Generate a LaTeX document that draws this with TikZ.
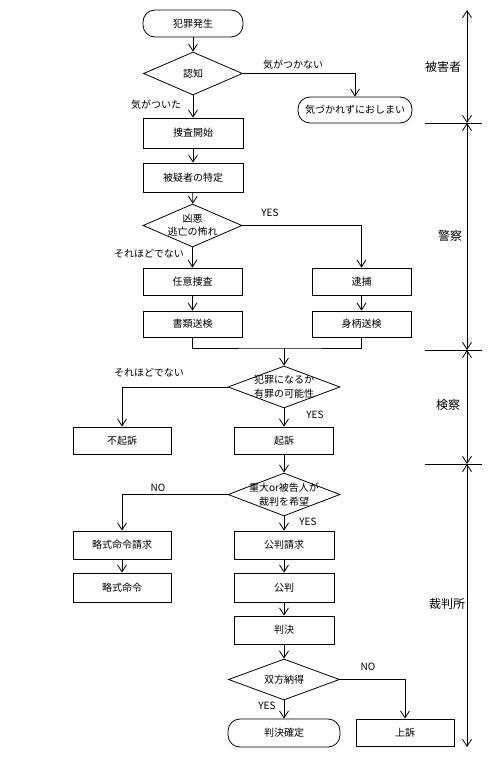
\documentclass[tikz,border=0pt]{standalone}
\usepackage{fontspec}
\setmainfont{Noto Sans CJK JP}
\usetikzlibrary{arrows.meta,shapes.geometric}
\begin{document}
\begin{tikzpicture}[x=1pt,y=-1pt,
  font=\fontsize{10}{13.5}\selectfont,
  line width=0.8pt,
  >={Straight Barb[length=7pt,width=9pt]},
  box/.style={draw,rectangle,minimum width=99pt,minimum height=28pt,inner sep=0pt},
  term/.style={draw,rectangle,rounded corners=12pt,minimum height=27pt,inner sep=0pt},
  dia/.style={draw,diamond,minimum width=#1,minimum height=43pt,inner sep=0pt},
  txt/.style={inner sep=0pt,align=center},
  lbl/.style={inner sep=0pt},
  side/.style={inner sep=0pt,font=\fontsize{12}{14}\selectfont},
  tick/.style={line width=0.8pt}]
\useasboundingbox[fill=white] (0,0) rectangle (492,757);

% terminals
\node[term,minimum width=100pt] (start) at (193,23.5) {犯罪発生};
\node[term,minimum width=114pt,minimum height=26pt] (oshimai) at (355,110) {気づかれずにおしまい};
\node[term,minimum width=112pt,minimum height=28pt] (kakutei) at (284,733) {判決確定};

% diamonds
\node[dia=99pt] (ninchi) at (193,73.5) {};
\node[txt] (ninchiT) at (ninchi) {認知};
\node[dia=99pt] (kyoaku) at (192.5,225.5) {};
\node[txt] (kyoakuT) at (kyoaku) {凶悪\\逃亡の怖れ};
\node[dia=112pt,minimum height=42pt] (hanzai) at (284,387) {};
\node[txt] (hanzaiT) at (hanzai) {犯罪になるか\\有罪の可能性};
\node[dia=112pt] (judai) at (284,494.5) {};
\node[txt] (judaiT) at (judai) {重大or被告人が\\裁判を希望};
\node[dia=111pt,minimum height=41pt] (soho) at (284,679.5) {};
\node[txt] (sohoT) at (soho) {双方納得};

% boxes
\node[box,minimum width=100pt,minimum height=30pt] (kaishi) at (193,133) {捜査開始};
\node[box,minimum width=100pt,minimum height=29pt] (tokutei) at (193,177.5) {被疑者の特定};
\node[box,minimum height=27pt] (nin) at (192.5,281.5) {任意捜査};
\node[box,minimum height=27pt] (taiho) at (361.5,281.5) {逮捕};
\node[box,minimum height=26pt] (shorui) at (192.5,324) {書類送検};
\node[box,minimum height=26pt] (migara) at (361.5,324) {身柄送検};
\node[box,minimum width=98pt,minimum height=27pt] (fukiso) at (122,440.5) {不起訴};
\node[box,minimum height=27pt] (kiso) at (284,440.5) {起訴};
\node[box,minimum width=98pt] (ryakuseikyu) at (122,545) {略式命令請求};
\node[box,minimum width=98pt,minimum height=29pt] (ryaku) at (122,587.5) {略式命令};
\node[box,minimum width=100pt] (kouhanseikyu) at (284,545) {公判請求};
\node[box,minimum width=100pt,minimum height=29pt] (kouhan) at (284,587.5) {公判};
\node[box,minimum width=100pt] (hanketsu) at (284,630) {判決};
\node[box,minimum width=98pt,minimum height=27pt] (joso) at (405,732.5) {上訴};

% connectors
\draw[->] (start) -- (ninchi);
\draw[->] (ninchi.east) -| (oshimai.north);
\draw[->] (ninchi) -- (kaishi);
\draw[->] (kaishi) -- (tokutei);
\draw[->] (tokutei) -- (kyoaku);
\draw[->] (kyoaku.east) -| (taiho.north);
\draw[->] (kyoaku) -- (nin);
\draw[->] (nin) -- (shorui);
\draw[->] (taiho) -- (migara);
\coordinate (j1) at (284,348);
\draw (shorui.south) |- (j1) -| (migara.south);
\draw[->] (j1) -- (hanzai.north);
\draw[->] (hanzai.west) -| (fukiso.north);
\draw[->] (hanzai) -- (kiso);
\draw[->] (kiso) -- (judai);
\draw[->] (judai.west) -| (ryakuseikyu.north);
\draw[->] (judai) -- (kouhanseikyu);
\draw[->] (ryakuseikyu) -- (ryaku);
\draw[->] (kouhanseikyu) -- (kouhan);
\draw[->] (kouhan) -- (hanketsu);
\draw[->] (hanketsu) -- (soho);
\draw[->] (soho.east) -| (joso.north);
\draw[->] (soho) -- (kakutei);

% edge labels
\node[lbl] (l1) at (293,65) {気がつかない};
\node[lbl] (l2) at (156,105) {気がついた};
\node[lbl] (l3) at (270,213) {YES};
\node[lbl] (l4) at (149,254) {それほどでない};
\node[lbl] (l5) at (149,373) {それほどでない};
\node[lbl] (l6) at (315,415) {YES};
\node[lbl] (l7) at (158,488) {NO};
\node[lbl] (l8) at (308,522) {YES};
\node[lbl] (l9) at (368,667) {NO};
\node[lbl] (l10) at (267,706) {YES};

% side axis
\coordinate (a0) at (467,10);
\coordinate (a1) at (467,123);
\coordinate (a2) at (467,350);
\coordinate (a3) at (467,464);
\coordinate (a4) at (467,747);
\draw[<->] (a0) -- (a1);
\draw[<->] (a1) -- (a2);
\draw[<->] (a2) -- (a3);
\draw[<->] (a3) -- (a4);
\coordinate (t1l) at (425,123); \coordinate (t1r) at (482,123);
\coordinate (t2l) at (425,350); \coordinate (t2r) at (482,350);
\coordinate (t3l) at (425,464); \coordinate (t3r) at (482,464);
\draw[tick] (t1l) -- (t1r);
\draw[tick] (t2l) -- (t2r);
\draw[tick] (t3l) -- (t3r);
\node[side] (s1) at (443,67) {被害者};
\node[side] (s2) at (450,236) {警察};
\node[side] (s3) at (448,405) {検察};
\node[side] (s4) at (447,604) {裁判所};
\end{tikzpicture}
\end{document}
